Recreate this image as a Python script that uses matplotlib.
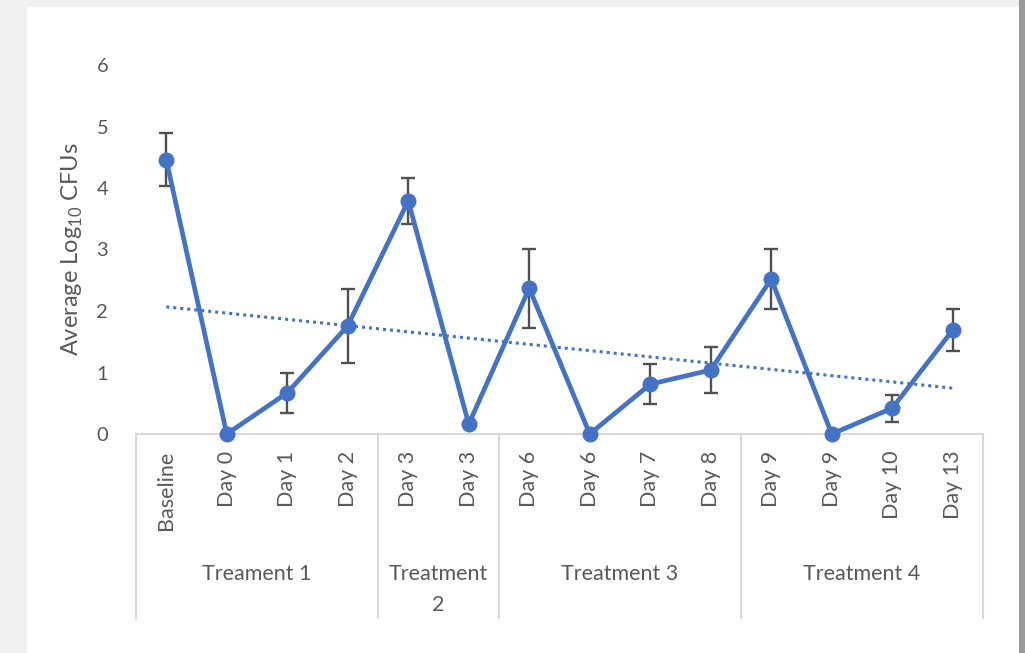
import numpy as np
import matplotlib
matplotlib.use('Agg')
import matplotlib.pyplot as plt
import matplotlib.patches as mpatches
import matplotlib.transforms as mtransforms

plt.rcParams['font.family'] = ['Lato', 'DejaVu Sans']
plt.rcParams['mathtext.fontset'] = 'custom'
plt.rcParams['mathtext.rm'] = 'Lato'

# Data
days = ['Baseline', 'Day 0', 'Day 1', 'Day 2', 'Day 3', 'Day 3', 'Day 6',
        'Day 6', 'Day 7', 'Day 8', 'Day 9', 'Day 9', 'Day 10', 'Day 13']
log_cfu = [4.46, 0.0, 0.67, 1.76, 3.79, 0.16, 2.37, 0.0, 0.81, 1.04, 2.52, 0.0, 0.42, 1.69]
log_cfu_err = [0.43, 0.0, 0.33, 0.60, 0.37, 0.0, 0.64, 0.0, 0.33, 0.38, 0.49, 0.0, 0.22, 0.34]
groups = ['Treament 1', 'Treatment\n2', 'Treatment 3', 'Treatment 4']
group_sizes = [4, 2, 4, 4]

BLUE = '#4472C4'
TEXT = '#595959'
AXIS = '#d9d9d9'

fig = plt.figure(figsize=(10.25, 6.53), dpi=100)
fig.patch.set_facecolor('#f1f1f1')

# white card with a thin grey edge on the right
fig.patches.append(mpatches.Rectangle((27 / 1025, 0), (1019 - 27) / 1025, 646 / 653,
                                      transform=fig.transFigure, facecolor='white',
                                      edgecolor='none', zorder=-10))
fig.patches.append(mpatches.Rectangle((1019 / 1025, 0), 6 / 1025, 1,
                                      transform=fig.transFigure, facecolor='#9a9a9a',
                                      edgecolor='none', zorder=-10))

ax = fig.add_axes([136 / 1025, (653 - 434) / 653, 847 / 1025, 369 / 653])
ax.set_facecolor('none')

x = np.arange(len(days))
y = np.array(log_cfu)
err = np.array(log_cfu_err)

# linear trendline over the series
slope, intercept = np.polyfit(x, y, 1)
ax.plot(x, slope * x + intercept, color=BLUE, linestyle=(0, (1, 1.3)), linewidth=2.2, zorder=2)

has_err = err > 0
ax.errorbar(x[has_err], y[has_err], yerr=err[has_err], fmt='none', ecolor='#505050',
            elinewidth=1.7, capsize=5, capthick=1.7, zorder=3)
ax.plot(x, y, color=BLUE, linewidth=3.4, marker='o', markersize=10.5, zorder=4, clip_on=False)

ax.set_xlim(-0.5, len(days) - 0.5)
ax.set_ylim(0, 6)
ax.set_yticks(range(0, 7))
ax.set_xticks(x)
ax.set_xticklabels(days, rotation=90, va='top')
ax.tick_params(axis='x', length=0, pad=12, labelsize=15.5, labelcolor=TEXT)
ax.tick_params(axis='y', length=0, pad=20, labelsize=14.5, labelcolor=TEXT)

for side in ['top', 'right', 'left']:
    ax.spines[side].set_visible(False)
ax.spines['bottom'].set_color(AXIS)
ax.spines['bottom'].set_linewidth(1.5)

ax.set_ylabel('Average Log$_{10}$ CFUs', fontsize=17, color=TEXT)
ax.yaxis.set_label_coords(-0.06, 0.5)

# multi-level category axis: separators and group names
trans = mtransforms.blended_transform_factory(ax.transData, ax.transAxes)
bounds = np.concatenate([[0], np.cumsum(group_sizes)]) - 0.5
for b in bounds:
    ax.plot([b, b], [0, -0.499], transform=trans, color=AXIS, linewidth=1.5, clip_on=False)
for name, lo, hi in zip(groups, bounds[:-1], bounds[1:]):
    ax.text((lo + hi) / 2, -0.352, name, transform=trans, ha='center', va='top',
            fontsize=15.5, color=TEXT, linespacing=1.7)

fig.savefig('out.png', dpi=100, facecolor=fig.get_facecolor())
